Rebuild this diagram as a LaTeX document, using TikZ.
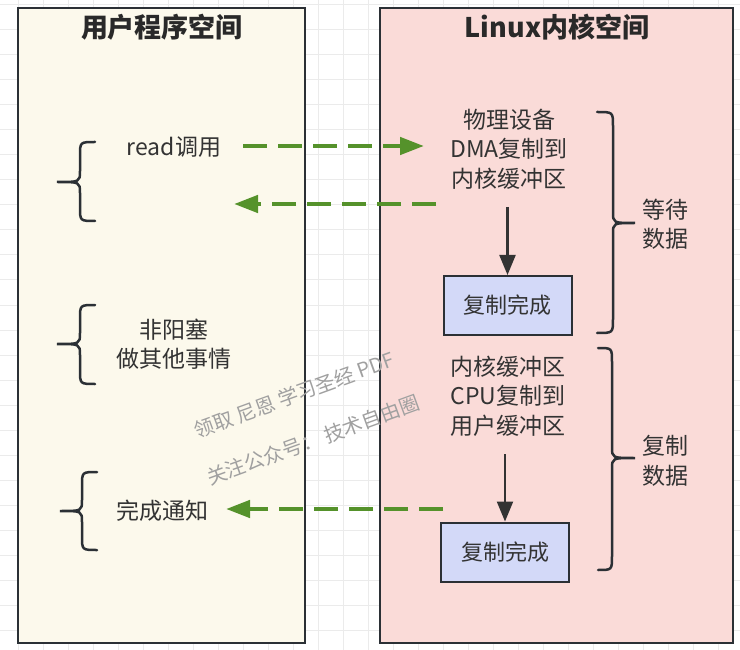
\documentclass[tikz,border=0pt]{standalone}
\usepackage{fontspec}
\setmainfont{Noto Sans CJK SC}
\usetikzlibrary{arrows.meta}
\definecolor{gridc}{HTML}{EBEBEB}
\definecolor{cream}{HTML}{FCF9EC}
\definecolor{pinkbg}{HTML}{FADBD8}
\definecolor{bluebox}{HTML}{D3D9F8}
\definecolor{edge}{HTML}{2B3035}
\definecolor{txt}{HTML}{333333}
\definecolor{gr}{HTML}{55922B}
\definecolor{wm}{HTML}{A0A0A0}
\newcommand{\curly}[6]{% endx stemx tipx top mid bottom
  \draw[bracestyle] (#1,#4) .. controls (#2,#4) .. (#2,#4+14) -- (#2,#5-11)
    .. controls (#2,#5) .. (#3,#5) .. controls (#2,#5) .. (#2,#5+11)
    -- (#2,#6-14) .. controls (#2,#6) .. (#1,#6);}
\begin{document}
\begin{tikzpicture}[x=1pt,y=-1pt,
  panel/.style={draw=edge, line width=2.5pt, inner sep=0pt},
  titletext/.style={font=\fontsize{27}{32}\selectfont\bfseries, text=txt!80!black},
  body/.style={font=\fontsize{23}{29.5}\selectfont, text=txt, align=center, inner sep=1pt},
  donebox/.style={draw=edge, line width=2pt, fill=bluebox, minimum width=128pt, minimum height=59pt, inner sep=0pt, font=\fontsize{22}{26}\selectfont, text=txt},
  bracestyle/.style={draw=edge, line width=2.5pt, line cap=round},
  garrow/.style={draw=gr, line width=4.5pt, dash pattern=on 24pt off 11pt, -{Triangle[length=24pt,width=17pt]}},
  karrow/.style={draw=txt, line width=2.2pt, -{Triangle[length=20pt,width=16pt]}},
  wmtext/.style={font=\fontsize{20}{23}\selectfont, text=wm, rotate=20, inner sep=0pt}
]
\useasboundingbox (0,0) rectangle (740,650);
\fill[white] (0,0) rectangle (740,650);
% background grid
\foreach \gx in {18,43,...,740} \draw[gridc, line width=1pt] (\gx,0) -- (\gx,650);
\foreach \gy in {5,30,...,650} \draw[gridc, line width=1pt] (0,\gy) -- (740,\gy);

% panels
\node[panel, fill=cream, minimum width=287pt, minimum height=635pt] (user) at (161.5,325.5) {};
\node[panel, fill=pinkbg, minimum width=353pt, minimum height=635pt] (kern) at (556.5,325.5) {};
\node[titletext] (ut) at (162,27) {用户程序空间};
\node[titletext] (kt) at (557,27) {Linux内核空间};

% left texts
\node[body] (read) at (174,147) {read调用};
\node[body] (nonblk) at (174,344) {非阳塞\\做其他事情};
\node[body] (notify) at (162,511) {完成通知};

% right texts
\node[body] (dma) at (509,149) {物理设备\\DMA复制到\\内核缓冲区};
\node[body] (cpu) at (508,396) {内核缓冲区\\CPU复制到\\用户缓冲区};
\node[donebox] (done1) at (507.5,305.5) {复制完成};
\node[donebox] (done2) at (505,552) {复制完成};
\node[body] (wait) at (665,224) {等待\\数据};
\node[body] (copy) at (665,461) {复制\\数据};

% braces
\curly{95}{80}{57}{142}{182}{221}
\curly{95}{80}{57}{305}{344}{384}
\curly{97}{82}{60}{472}{511}{550}
\curly{597}{613}{635}{112}{223}{333}
\curly{598}{612}{635}{348}{458}{570}

% connectors
\coordinate (g1s) at (243,146);
\coordinate (g1e) at (424,146);
\coordinate (g2s) at (436,204);
\coordinate (g2e) at (234,204);
\coordinate (g3s) at (443,509);
\coordinate (g3e) at (226,509);
\draw[garrow] (g1s) -- (g1e);
\draw[garrow] (g2s) -- (g2e);
\draw[garrow] (g3s) -- (g3e);
\coordinate (k1) at (507.5,207);
\coordinate (k2) at (505,454);
\draw[karrow] (k1) -- (done1.north);
\draw[karrow] (k2) -- (done2.north);

% watermark
\node[wmtext] (wm1) at (294,395) {领取 尼恩 学习圣经 PDF};
\node[wmtext] (wm2) at (313,440) {关注公众号： 技术自由圈};
\end{tikzpicture}
\end{document}
